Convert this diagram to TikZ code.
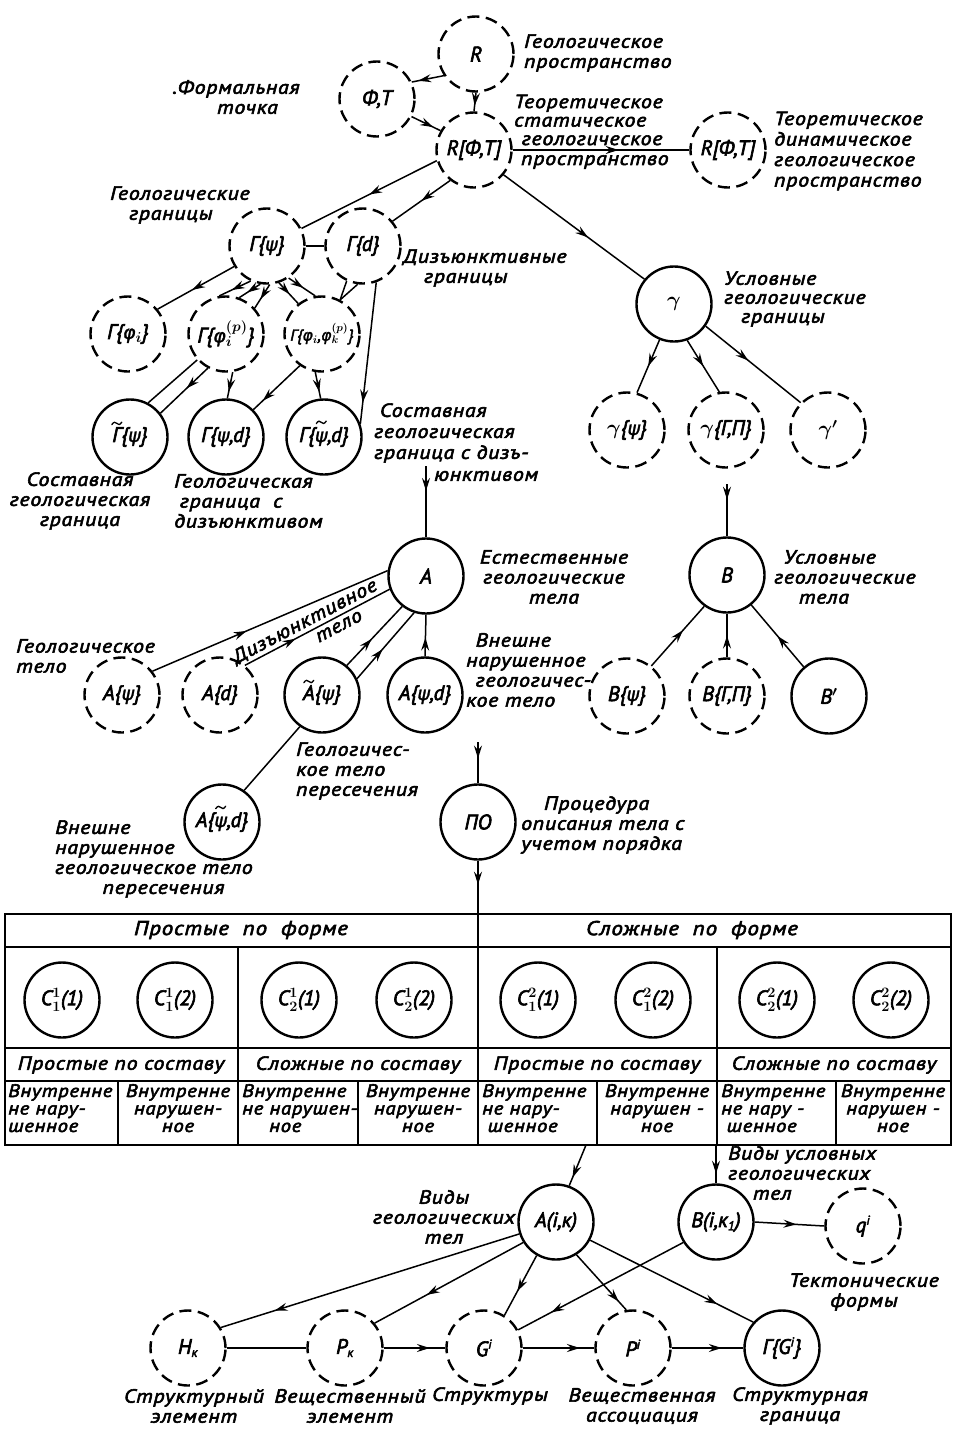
\documentclass[tikz,border=0pt]{standalone}
\usepackage{fontspec}
\setmainfont{PT Sans}[ItalicFeatures={FakeStretch=1.15,LetterSpace=4,FakeBold=3}]
\newfontfamily\cfam{PT Sans}[ItalicFeatures={FakeBold=3}]
\newfontfamily\gfam{DejaVu Sans}[ItalicFeatures={FakeBold=1.5}]
\usetikzlibrary{arrows.meta,decorations.markings}
\newcommand{\lblf}{\fontsize{19}{20}\selectfont\itshape}
\newcommand{\cirf}{\fontsize{21}{22}\cfam\itshape\boldmath}
\newcommand{\tabf}{\fontsize{18}{17.5}\selectfont\itshape}
\newcommand{\gk}[1]{{\gfam\itshape\fontsize{19}{22}\selectfont #1}}
\newcommand{\lowt}[1]{$_{\mbox{\fontsize{13}{13}\cfam\itshape #1}}$}
\newcommand{\upt}[1]{$^{\mbox{\fontsize{13}{13}\cfam\itshape #1}}$}
\newcommand{\tld}[2][0.8em]{\leavevmode\ooalign{#2\cr\hidewidth\raisebox{#1}{\tikz[x=1pt,y=1pt,baseline=0pt]\draw[line width=1.3pt,line cap=round] (0,0.5) .. controls (2,3.5) and (3.5,3.5) .. (5,1.8) .. controls (6.5,0) and (8,0) .. (10,3);}\hidewidth\cr}}
\begin{document}
\begin{tikzpicture}[x=1pt,y=-1pt,
  lb/.style={font=\lblf, inner sep=0pt, align=left, anchor=west},
  lc/.style={font=\lblf, inner sep=0pt, align=center},
  cn/.style={circle, draw, line width=2.4pt, minimum size=75pt, inner sep=0pt, font=\cirf},
  dn/.style={cn, dash pattern=on 12pt off 6.5pt},
  ln/.style={line width=1.5pt},
  ar/.style={ln, postaction={decorate}, decoration={markings, mark=at position #1 with {\arrow{Stealth[length=13pt,width=8pt,inset=4.5pt]}}}},
  ar/.default=0.6,
  tl/.style={line width=2.2pt},
  tt/.style={font=\tabf, inner sep=0pt, align=left, anchor=north west},
  ttc/.style={font=\tabf, inner sep=0pt, align=center, anchor=north},
]
\useasboundingbox (0,0) rectangle (957,1440);

% ---------- top ----------
\node[dn] (R) at (476,54) {R};
\node[dn] (FT) at (377,99) {Ф,Т};
\node[dn] (RFT) at (474,150) {R[Ф,Т]};
\node[dn] (RFT2) at (728,150) {R[Ф,Т]};
\node[dn] (Gpsi) at (267,246) {Г\{\gk{ψ}\}};
\node[dn] (Gd) at (363,246) {Г\{d\}};
\node[cn] (gam) at (674,304) {$\gamma$};
\node[dn] (Gphi) at (128,334) {Г\{\gk{φ}$_i$\}};
\node[dn] (Gphip) at (226,334) {Г\{\gk{φ}$_i^{(p)}$\}};
\node[dn, font=\fontsize{16}{17}\cfam\itshape\boldmath] (Gphik) at (322,334) {Г\{{\gfam\itshape φ}$_i$,{\gfam\itshape φ}$_k^{(p)}$\}};
\node[cn] (Gtpsi) at (130,437) {\tld{Г}\{\gk{ψ}\}};
\node[cn] (Gpsid) at (226,437) {Г\{\gk{ψ},d\}};
\node[cn] (Gtpsid) at (324,437) {Г\{\tld[0.85em]{\gk{ψ}},d\}};
\node[dn] (gpsi) at (627,430) {$\gamma$\{\gk{ψ}\}};
\node[dn] (gGP) at (726,430) {$\gamma$\{Г,П\}};
\node[dn] (gpr) at (828,430) {$\gamma'$};

% ---------- bodies ----------
\node[cn] (A) at (426,576) {A};
\node[cn] (B) at (727,575) {B};
\node[dn] (Apsi) at (122,695) {A\{\gk{ψ}\}};
\node[dn] (Ad) at (220,695) {A\{d\}};
\node[cn] (Atpsi) at (322,695) {\tld{A}\{\gk{ψ}\}};
\node[cn] (Apsid) at (425,695) {A\{\gk{ψ},d\}};
\node[dn] (Bpsi) at (627,696) {B\{\gk{ψ}\}};
\node[dn] (BGP) at (727,696) {B\{Г,П\}};
\node[cn] (Bp) at (829,696) {B$'$};
\node[cn] (Atpsid) at (222,822) {A\{\tld[0.85em]{\gk{ψ}},d\}};
\node[cn] (PO) at (478,822) {ПО};

% ---------- bottom ----------
\node[cn] (Aik) at (556,1222) {A(i,к)};
\node[cn] (Bik) at (716,1222) {B(i,к\lowt{1})};
\node[dn] (qi) at (863,1226) {q\upt{i}};
\node[dn] (HK) at (188,1348) {H\lowt{к}};
\node[dn] (PK) at (345,1348) {P\lowt{к}};
\node[dn] (Gi) at (484,1348) {G\upt{i}};
\node[dn] (Pi) at (633,1348) {P\upt{i}};
\node[cn] (GGi) at (782,1348) {Г\{G\upt{i}\}};

% ---------- connectors top ----------
\draw[ar=0.8] (R.214) -- (FT.26);
\draw[ar=0.7] (R.south) -- (RFT.north);
\draw[ar=0.75] (FT.-27) -- (RFT.150);
\draw[ar=0.6] (RFT.east) -- (RFT2.west);
\draw[ar=0.5] (RFT.196) -- (Gpsi.27);
\draw[ar=0.5] (RFT.232) -- (Gd.40);
\draw[ar=0.6] (RFT.-40) -- (gam.140);
\draw[ln] (Gpsi.east) -- (Gd.west);
\draw[ar=0.55] (Gpsi.212) -- (Gphi.40);
\draw[ar=0.6] (Gpsi.-115) -- (Gphip.100);
\draw[ar=0.62] (Gpsi.-100) -- (Gphip.70);
\draw[ar=0.62] (Gpsi.-86) -- (Gphip.42);
\draw[ar=0.55] (Gpsi.-72) -- (Gphik.128);
\draw[ar=0.55] (Gpsi.-56) -- (Gphik.100);
\draw[ln] (Gd.-115) -- (Gphik.62);
\draw[ln] (Gd.-98) -- (Gphik.62);
\draw[ar=0.85] (Gd.-70) -- (Gtpsid.20);
\draw[ln] (Gphip.222) -- (Gtpsi.62);
\draw[ar=0.45] (Gphip.242) -- (Gtpsi.38);
\draw[ar=0.75] (Gphip.-80) -- (Gpsid.88);
\draw[ar=0.8] (Gphik.235) -- (Gpsid.45);
\draw[ar=0.75] (Gphik.-100) -- (Gtpsid.95);
\draw[ar=0.5] (gam.-112) -- (gpsi.75);
\draw[ar=0.5] (gam.-70) -- (gGP.100);
\draw[ar=0.45] (gam.-35) -- (gpr.135);

% ---------- connectors bodies ----------
\coordinate (Ain) at (426,466);
\draw[ar=0.35] (Ain) -- (A.north);
\coordinate (Bin) at (727,484);
\draw[ar=0.3] (Bin) -- (B.north);
\draw[ar=0.4] (Apsi.38) -- (A.172);
\draw[ar=0.35] (Ad.50) -- node[font=\lblf, inner sep=0pt, sloped, above=2pt, pos=0.45] (dz1) {Дизъюнктивное} node[font=\lblf, inner sep=0pt, sloped, below=4pt, pos=0.62] (dz2) {тело} (A.200);
\draw[ar=0.45] (Atpsi.50) -- (A.232);
\draw[ar=0.45] (Atpsi.25) -- (A.252);
\draw[ar=0.45] (Apsid.north) -- (A.south);
\draw[ln] (Atpsid.55) -- (Atpsi.235);
\draw[ar=0.6] (Bpsi.51) -- (B.234);
\draw[ar=0.5] (BGP.north) -- (B.south);
\draw[ar=0.5] (Bp.131) -- (B.-51);
\coordinate (POin) at (478,742);
\draw[ar=0.4] (POin) -- (PO.north);
\coordinate (Ttop) at (478,914);
\draw[ar=0.45] (PO.south) -- (Ttop);

% ---------- table ----------
\draw[tl] (5,914) rectangle (951,1145);
\draw[tl] (5,947) -- (951,947);
\draw[tl] (5,1048) -- (951,1048);
\draw[tl] (5,1081) -- (951,1081);
\draw[tl] (478,914) -- (478,1145);
\draw[tl] (238,947) -- (238,1145);
\draw[tl] (717,947) -- (717,1145);
\draw[tl] (118,1081) -- (118,1145);
\draw[tl] (358,1081) -- (358,1145);
\draw[tl] (597,1081) -- (597,1145);
\draw[tl] (836,1081) -- (836,1145);
\node[lc, font=\fontsize{20}{20}\selectfont\itshape] (h1) at (241,930) {Простые\ \ по\ \ форме};
\node[lc, font=\fontsize{20}{20}\selectfont\itshape] (h2) at (692,930) {Сложные\ \ по\ \ форме};
\node[cn] (c1) at (62,1000) {C$^1_1$(1)};
\node[cn] (c2) at (175,1000) {C$^1_1$(2)};
\node[cn] (c3) at (299,1000) {C$^1_2$(1)};
\node[cn] (c4) at (414,1000) {C$^1_2$(2)};
\node[cn] (c5) at (538,1000) {C$^2_1$(1)};
\node[cn] (c6) at (653,1000) {C$^2_1$(2)};
\node[cn] (c7) at (777,1000) {C$^2_2$(1)};
\node[cn] (c8) at (891,1000) {C$^2_2$(2)};
\node[lc] (s1) at (121,1065) {Простые по составу};
\node[lc] (s2) at (358,1065) {Сложные по составу};
\node[lc] (s3) at (597,1065) {Простые по составу};
\node[lc] (s4) at (834,1065) {Сложные по составу};
\node[tt] (t1) at (8,1084) {Внутренне\\не нару-\\шенное};
\node[ttc] (t2) at (178,1084) {Внутренне\\нарушен-\\ное};
\node[tt] (t3) at (242,1084) {Внутренне\\не нарушен-\\\hspace*{1.5em}ное};
\node[ttc] (t4) at (418,1084) {Внутренне\\нарушен-\\ное};
\node[tt] (t5) at (482,1084) {Внутренне\\не нару-\\\hspace*{0.3em}шенное};
\node[ttc] (t6) at (657,1084) {Внутренне\\нарушен -\\ное};
\node[tt] (t7) at (721,1084) {Внутренне\\не нару -\\\hspace*{0.3em}шенное};
\node[ttc] (t8) at (893,1084) {Внутренне\\нарушен -\\ное};

% ---------- connectors bottom ----------
\coordinate (Tb1) at (586,1145);
\draw[ar=0.8] (Tb1) -- (Aik.70);
\coordinate (Tb2) at (716,1145);
\draw[ar=0.75] (Tb2) -- (Bik.north);
\draw[ar=0.6] (Bik.east) -- (qi.west);
\draw[ar=0.82] (Aik.198) -- (HK.32);
\draw[ar=0.65] (Aik.212) -- (PK.40);
\draw[ar=0.6] (Aik.240) -- (Gi.58);
\draw[ar=0.85] (Aik.-58) -- (Pi.100);
\draw[ar=0.78] (Aik.-28) -- (GGi.138);
\draw[ar=0.8] (Bik.212) -- (Gi.28);
\draw[ln] (HK.east) -- (PK.west);
\draw[ar=0.75] (PK.east) -- (Gi.west);
\draw[ar=0.8, line width=2.3pt] (Gi.east) -- (Pi.west);
\draw[ar=0.7] (Pi.east) -- (GGi.west);

% ---------- labels ----------
\node[lb] (l1) at (524,53) {Геологическое\\пространство};
\node[lc] (l2) at (236,97) {.Формальная\\\hspace*{1.2em}точка};
\node[lb, font=\fontsize{19}{18.5}\selectfont\itshape] (l3) at (514,120) {Теоретическое\\статическое\\\hspace*{0.4em}геологическое};
\node[lb] (l3b) at (521,162) {пространство};
\node[lb, font=\fontsize{19}{20.5}\selectfont\itshape] (l4) at (774,151) {Теоретическое\\динамическое\\геологическое\\пространство};
\node[lb] (l5) at (110,205) {Геологические\\\hspace*{1em}границы};
\node[lb] (l6) at (403,268) {Дизъюнктивные\\\hspace*{1.1em}границы};
\node[lb, font=\fontsize{19}{19}\selectfont\itshape] (l7) at (724,299) {Условные\\геологические\\\hspace*{0.9em}границы};
\node[lb, font=\fontsize{19}{21}\selectfont\itshape] (l8) at (374,433) {\hspace*{0.3em}Составная\\геологическая\\граница с дизъ-};
\node[lb] (l8b) at (434,476) {юнктивом};
\node[lc] (l9) at (80,501) {Составная\\геологическая\\граница};
\node[lb] (l10) at (174,501) {Геологическая\\\hspace*{0.3em}граница\ \ с\\дизъюнктивом};
\node[lc] (l11) at (554,577) {Естественные\\геологические\\тела};
\node[lb] (l12) at (774,577) {\hspace*{0.5em}Условные\\геологические\\\hspace*{1.3em}тела};
\node[lb] (l13) at (16,656) {Геологическое\\тело};
\node[lb] (l15) at (466,670) {\hspace*{0.5em}Внешне\\нарушенное\\\hspace*{0.5em}геологичес-\\кое тело};
\node[lb] (l16) at (296,771) {Геологичес-\\кое тело\\пересечения};
\node[lb] (l17) at (55,859) {Внешне\\нарушенное\\геологическое тело\\\hspace*{2.5em}пересечения};
\node[lb] (l18) at (521,825) {\hspace*{1.2em}Процедура\\описания тела с\\учетом порядка};
\node[lc] (l19) at (444,1217) {Виды\\геологических\\тел};
\node[lb] (l20) at (728,1173) {Виды условных\\геологических\\\hspace*{1.3em}тел};
\node[lc] (l21) at (864,1292) {Тектонические\\формы};
\node[lc] (l22) at (194,1406) {Структурный\\элемент};
\node[lc] (l23) at (350,1406) {Вещественный\\элемент};
\node[lc] (l24) at (490,1396) {Структуры};
\node[lc] (l25) at (642,1406) {Вещественная\\ассоциация};
\node[lc] (l26) at (800,1406) {Структурная\\граница};
\end{tikzpicture}
\end{document}
